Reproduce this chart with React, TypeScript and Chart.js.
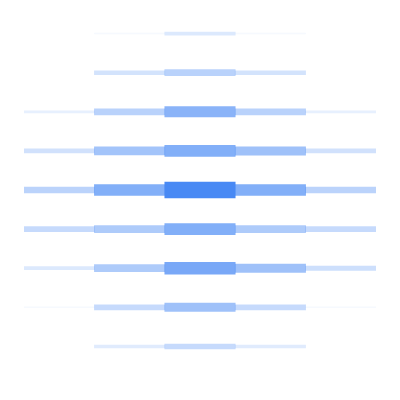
import { useEffect, useRef } from "react";
import { Chart, registerables } from "chart.js";

Chart.register(...registerables);

const columns = ["C1", "C2", "C3", "C4", "C5"];
const rowLabels = ["R1", "R2", "R3", "R4", "R5", "R6", "R7", "R8", "R9"];

const row1 = [0, 0.05, 0.19, 0.05, 0];
const row2 = [0, 0.24, 0.38, 0.24, 0];
const row3 = [0.13, 0.38, 0.64, 0.38, 0.13];
const row4 = [0.25, 0.5, 0.68, 0.52, 0.25];
const row5 = [0.37, 0.68, 1.0, 0.68, 0.37];
const row6 = [0.31, 0.44, 0.68, 0.44, 0.31];
const row7 = [0.19, 0.44, 0.73, 0.52, 0.27];
const row8 = [0.05, 0.31, 0.52, 0.31, 0.05];
const row9 = [0, 0.17, 0.31, 0.17, 0];

const rowsData = [row1, row2, row3, row4, row5, row6, row7, row8, row9];

// half thickness (in row units) for a value of 1
const HALF = 0.205;

export default function App() {
  const ref = useRef<HTMLCanvasElement | null>(null);
  useEffect(() => {
    if (!ref.current) return;
    const datasets = rowsData.map((vals, i) => ({
      label: rowLabels[i],
      data: vals.map((v) => [i + 0.5 - v * HALF, i + 0.5 + v * HALF]),
      backgroundColor: vals.map((v) => `rgba(66,133,244,${Math.min(1, v * 0.97)})`),
      borderWidth: 0,
      borderSkipped: false as const,
      grouped: false,
      barPercentage: 1,
      categoryPercentage: 1,
    }));
    const chart = new Chart(ref.current, {
      type: "bar",
      data: { labels: columns, datasets: datasets as any },
      options: {
        animation: false,
        responsive: true,
        maintainAspectRatio: false,
        layout: { padding: { left: 16, right: 16, top: 6, bottom: 26 } },
        plugins: { legend: { display: false }, tooltip: { enabled: false } },
        scales: {
          x: { type: "category", display: false, grid: { display: false } },
          y: { type: "linear", min: 0, max: 9, reverse: true, display: false, grid: { display: false } },
        },
      },
    });
    return () => chart.destroy();
  }, []);
  return (
    <div style={{ width: 384, height: 384 }}>
      <canvas ref={ref} />
    </div>
  );
}
